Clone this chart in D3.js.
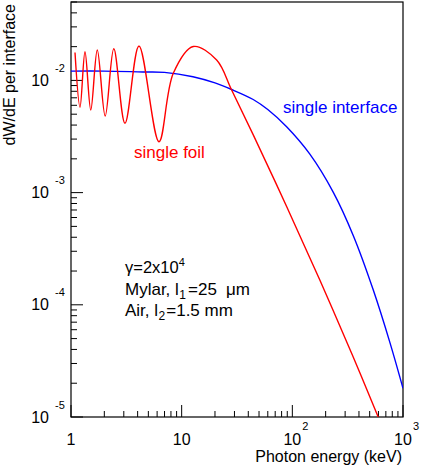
<!DOCTYPE html>
<html>
<head>
<meta charset="utf-8">
<script src="https://cdn.jsdelivr.net/npm/d3@7"></script>
<style>
  html, body { margin: 0; padding: 0; background: #fff; }
  svg { display: block; }
  text { font-family: "Liberation Sans", Arial, Helvetica, sans-serif; }
</style>
</head>
<body>
<svg id="chart" width="422" height="468"></svg>
<script>
// ---- data ----
const blueE = [1, 2, 4.47, 7, 12.65, 20, 28.3, 44.3, 60, 88.8, 144, 234, 355, 538, 762, 1000];
const blueV = [0.0121, 0.0121, 0.0119, 0.0118, 0.01079, 0.0095, 0.0083, 0.00676, 0.0055, 0.00386, 0.0022, 0.00101, 4.15e-4, 1.36e-4, 4.6e-5, 1.8e-5];

const redE = [1.087, 1.206, 1.338, 1.509, 1.728, 2.037, 2.436, 3.075, 4.114, 6.236, 8.40, 12.73, 20.71, 28.29, 44.36, 88.8, 177.6, 354.9, 597, 640];
const redV = [0.01773, 0.00577, 0.01803, 0.00545, 0.01866, 0.00482, 0.01913, 0.004146, 0.02025, 0.002843, 0.01157, 0.02005, 0.0152, 0.00821, 0.00327, 7.53e-4, 1.654e-4, 3.43e-5, 1.0e-5, 8.5e-6];

const xTickValues = [1, 10, 100, 1000];
const xTickBase = ["1", "10", "10", "10"];
const xTickExp = ["", "", "2", "3"];
const yTickValues = [1e-2, 1e-3, 1e-4, 1e-5];
const yTickBase = ["10", "10", "10", "10"];
const yTickExp = ["-2", "-3", "-4", "-5"];

const xTitle = "Photon energy (keV)";
const yTitle = "dW/dE per interface";
const blueLabel = "single interface";
const redLabel = "single foil";

// ---- layout ----
const L = 71, R = 403, T = 2, B = 417;
const svg = d3.select("#chart");
const x = d3.scaleLog().domain([1, 1000]).range([L, R]);
const y = d3.scaleLog().domain([1e-5, 5e-2]).range([B, T]);

svg.append("defs").append("clipPath").attr("id", "clip")
  .append("rect").attr("x", L).attr("y", T).attr("width", R - L).attr("height", B - T);

const xMinor = [];
for (let d = 1; d < 1000; d *= 10) for (let k = 2; k <= 9; k++) xMinor.push(d * k);
const yMinor = [];
for (let d = 1e-5; d < 0.05; d *= 10) for (let k = 2; k <= 9; k++) if (d * k <= 0.0501) yMinor.push(d * k);

const g = svg.append("g");
g.selectAll(".xminor").data(xMinor).enter().append("line")
  .attr("x1", d => x(d)).attr("x2", d => x(d)).attr("y1", B).attr("y2", B - 6)
  .attr("stroke", "#000").attr("stroke-width", 1);
g.selectAll(".xmajor").data(xTickValues).enter().append("line")
  .attr("x1", d => x(d)).attr("x2", d => x(d)).attr("y1", B).attr("y2", B - 12)
  .attr("stroke", "#000").attr("stroke-width", 1);
g.selectAll(".yminor").data(yMinor).enter().append("line")
  .attr("x1", L).attr("x2", L + 6).attr("y1", d => y(d)).attr("y2", d => y(d))
  .attr("stroke", "#000").attr("stroke-width", 1);
g.selectAll(".ymajor").data(yTickValues).enter().append("line")
  .attr("x1", L).attr("x2", L + 12).attr("y1", d => y(d)).attr("y2", d => y(d))
  .attr("stroke", "#000").attr("stroke-width", 1);

svg.append("rect").attr("x", L).attr("y", T).attr("width", R - L).attr("height", B - T)
  .attr("fill", "none").attr("stroke", "#000").attr("stroke-width", 1.2);

const line = d3.line().x(d => x(d[0])).y(d => y(d[1])).curve(d3.curveCatmullRom.alpha(0.5));
const cg = svg.append("g").attr("clip-path", "url(#clip)");
cg.append("path").datum(blueE.map((e, i) => [e, blueV[i]]))
  .attr("d", line).attr("fill", "none").attr("stroke", "#0000ff").attr("stroke-width", 1.4);
cg.append("path").datum(redE.map((e, i) => [e, redV[i]]))
  .attr("d", line).attr("fill", "none").attr("stroke", "#ff0000").attr("stroke-width", 1.4);

xTickValues.forEach((v, i) => {
  const t = svg.append("text").attr("x", x(v)).attr("y", 445)
    .attr("text-anchor", "middle").attr("font-size", 16).text(xTickBase[i]);
  if (xTickExp[i]) {
    const w = t.node().getComputedTextLength();
    svg.append("text").attr("x", x(v) + w / 2 + 1).attr("y", 430)
      .attr("font-size", 11).text(xTickExp[i]);
  }
});
yTickValues.forEach((v, i) => {
  svg.append("text").attr("x", 49).attr("y", y(v) + 5.5)
    .attr("text-anchor", "end").attr("font-size", 16).text(yTickBase[i]);
  svg.append("text").attr("x", 55).attr("y", y(v) - 8.5)
    .attr("font-size", 11).text(yTickExp[i]);
});

svg.append("text").attr("x", 402).attr("y", 462).attr("text-anchor", "end")
  .attr("font-size", 16).text(xTitle);
svg.append("text").attr("transform", "translate(14.5,4) rotate(-90)")
  .attr("text-anchor", "end").attr("font-size", 16).text(yTitle);

svg.append("text").attr("x", 283).attr("y", 113).attr("font-size", 17)
  .attr("fill", "#0000ff").text(blueLabel);
svg.append("text").attr("x", 134).attr("y", 158).attr("font-size", 17)
  .attr("fill", "#ff0000").text(redLabel);

const t1 = svg.append("text").attr("x", 125).attr("y", 273).attr("font-size", 16.5);
t1.append("tspan").text("γ=2x10");
t1.append("tspan").attr("font-size", 11).attr("dy", -7).text("4");

const t2 = svg.append("text").attr("x", 125).attr("y", 295).attr("font-size", 17);
t2.append("tspan").text("Mylar, l");
t2.append("tspan").attr("font-size", 12).attr("dy", 4).attr("dx", 0.5).text("1");
t2.append("tspan").attr("dy", -4).attr("dx", 2).text("=25");
t2.append("tspan").attr("dx", 9).text("μm");

const t3 = svg.append("text").attr("x", 125).attr("y", 316).attr("font-size", 17);
t3.append("tspan").text("Air, l");
t3.append("tspan").attr("font-size", 12).attr("dy", 4).attr("dx", 0.5).text("2");
t3.append("tspan").attr("dy", -4).attr("dx", 1).text("=1.5 mm");
</script>
</body>
</html>
